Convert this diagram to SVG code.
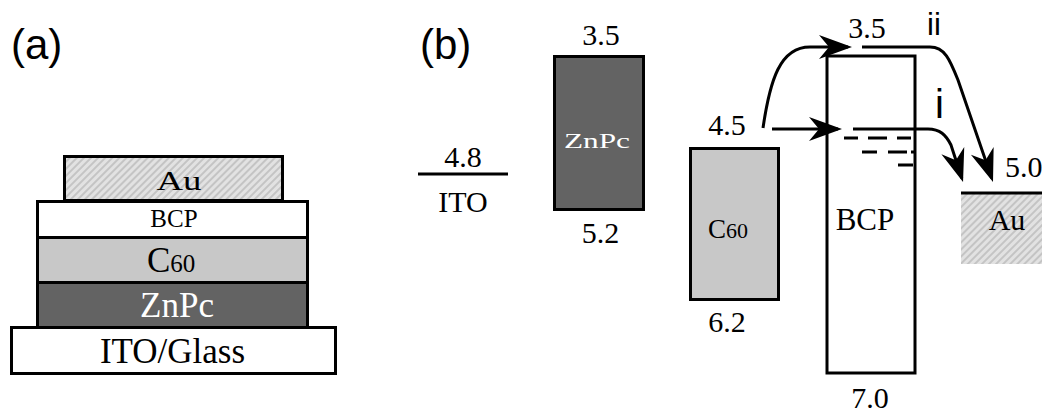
<svg xmlns="http://www.w3.org/2000/svg" width="1042" height="412" viewBox="0 0 1042 412">
<style>
.serif{font-family:"Liberation Serif","Times New Roman",serif;fill:#000}
.sans{font-family:"Liberation Sans",Arial,sans-serif;fill:#000}
.box{stroke:#000;stroke-width:3}
.ln{stroke:#000;stroke-width:3;fill:none}
.mid{text-anchor:middle}
.w{fill:#fff}
</style>
<defs>
<pattern id="hatch" patternUnits="userSpaceOnUse" width="5" height="5" patternTransform="rotate(-45)">
<rect width="5" height="5" fill="#e2e2e2"/>
<rect width="5" height="2" fill="#c4c4c4"/>
</pattern>
<marker id="ah" markerUnits="userSpaceOnUse" viewBox="-32 -14 38 28" markerWidth="38" markerHeight="28" refX="0" refY="0" orient="auto">
<path d="M4,0 L-29,-12 L-19,0 L-29,12 Z" fill="#000"/>
</marker>
</defs>
<rect width="1042" height="412" fill="#fff"/>

<text class="sans" x="11" y="59" font-size="42">(a)</text>
<text class="sans" x="420" y="59" font-size="42">(b)</text>

<g id="stack-ito">
<rect class="box" x="11.5" y="327.5" width="324" height="46" fill="#fff"/>
<text class="serif mid" x="172.5" y="363" font-size="35">ITO/Glass</text>
</g>
<g id="stack-znpc">
<rect class="box" x="37.5" y="282.5" width="270" height="45" fill="#636363"/>
<text class="serif mid w" x="177" y="317" font-size="35" style="fill:#fff">ZnPc</text>
</g>
<g id="stack-c60">
<rect class="box" x="37.5" y="237.5" width="270" height="45" fill="#c8c8c8"/>
<text class="serif" x="147" y="272"><tspan font-size="35">C</tspan><tspan font-size="25">60</tspan></text>
</g>
<g id="stack-bcp">
<rect class="box" x="37.5" y="201.5" width="270" height="36" fill="#fff"/>
<text class="serif mid" x="174" y="227" font-size="25">BCP</text>
</g>
<g id="stack-au">
<rect class="box" x="64.5" y="156.5" width="218" height="44" fill="url(#hatch)"/>
<text class="serif mid" x="179" y="190" font-size="28" textLength="45" lengthAdjust="spacingAndGlyphs">Au</text>
</g>

<g id="ito">
<line class="ln" x1="418" y1="174" x2="508" y2="174"/>
<text class="serif mid" x="463" y="167" font-size="30">4.8</text>
<text class="serif mid" x="463" y="212" font-size="30">ITO</text>
</g>
<g id="znpc">
<rect class="box" x="554.5" y="56.5" width="89" height="153" fill="#636363"/>
<text class="serif mid" x="601" y="45" font-size="30">3.5</text>
<text class="serif mid" x="600.5" y="243" font-size="30">5.2</text>
<text class="serif mid" x="597" y="148" font-size="22" textLength="66" lengthAdjust="spacingAndGlyphs" style="fill:#fff">ZnPc</text>
</g>
<g id="c60">
<rect class="box" x="690.5" y="148.5" width="88" height="151" fill="#c8c8c8"/>
<text class="serif mid" x="727" y="135" font-size="30">4.5</text>
<text class="serif mid" x="727" y="332" font-size="30">6.2</text>
<text class="serif" x="708" y="238"><tspan font-size="27">C</tspan><tspan font-size="22">60</tspan></text>
</g>
<g id="bcp">
<rect class="box" x="827" y="56" width="88" height="317" fill="none"/>
<text class="serif mid" x="867" y="38" font-size="30">3.5</text>
<text class="serif mid" x="865" y="230" font-size="31">BCP</text>
<text class="serif mid" x="870" y="408" font-size="30">7.0</text>
<path class="ln" d="M844,138 H858 M868,138 H887 M897,138 H911 M862,152 H877 M888,152 H907 M911,152 H915 M898,165 H913"/>
</g>
<g id="au">
<rect x="961" y="193" width="81" height="71" fill="url(#hatch)"/>
<line class="ln" x1="961" y1="193" x2="1042" y2="193"/>
<text class="serif" x="1005" y="177" font-size="30">5.0</text>
<text class="serif mid" x="1007" y="230" font-size="30">Au</text>
</g>

<g id="connectors">
<path class="ln" d="M763,128 C770,80 780,47 810,47 H848" marker-end="url(#ah)"/>
<path class="ln" d="M772,129 H838" marker-end="url(#ah)"/>
<path class="ln" d="M862,47 H930 C945,47 950,60 958,80 L991.7,178.2" marker-end="url(#ah)"/>
<path class="ln" d="M853,129 H928 C940,129 946,135 951,145 L961.8,178.2" marker-end="url(#ah)"/>
<text class="sans" x="927" y="35" font-size="31">ii</text>
<text class="sans" x="935" y="118" font-size="40">i</text>
</g>
</svg>
